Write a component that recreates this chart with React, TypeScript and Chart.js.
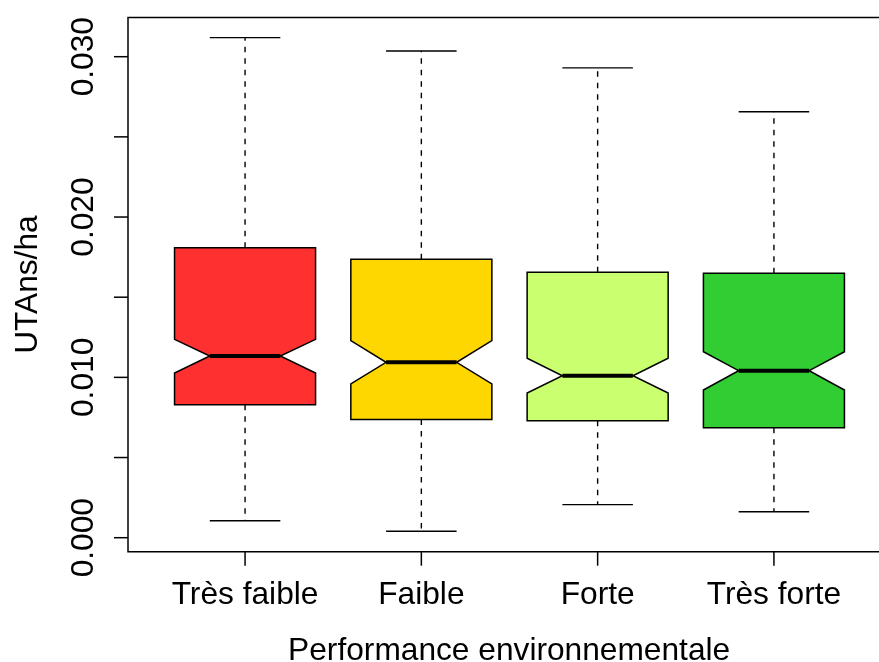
import React, { useEffect, useRef } from "react";
import { Chart, registerables } from "chart.js";

Chart.register(...registerables);

const categories = ["Très faible", "Faible", "Forte", "Très forte"];
const whiskerLow = [0.00106, 0.0004, 0.00206, 0.00162];
const q1Values = [0.0083, 0.00738, 0.0073, 0.00686];
const notchLow = [0.01027, 0.00959, 0.00902, 0.00921];
const medians = [0.01133, 0.01094, 0.0101, 0.01042];
const notchHigh = [0.01237, 0.01229, 0.01119, 0.0116];
const q3Values = [0.01809, 0.01736, 0.01655, 0.01649];
const whiskerHigh = [0.03119, 0.03036, 0.0293, 0.02657];
const boxColors = ["#FF3030", "#FFD700", "#CAFF70", "#32CD32"];

const yTickValues = [0, 0.005, 0.01, 0.015, 0.02, 0.025, 0.03];
const yTickLabels = ["0.000", "", "0.010", "", "0.020", "", "0.030"];

const yTitle = "UTAns/ha";
const xTitle = "Performance environnementale";

const FONT = '31.7px "Liberation Sans", Arial, sans-serif';

const boxPlugin = {
  id: "notchedBoxes",
  afterDraw(chart: any) {
    const ctx: CanvasRenderingContext2D = chart.ctx;
    const xs = chart.scales.x;
    const ys = chart.scales.y;
    const area = chart.chartArea;
    const hwUnits = 0.4;

    ctx.save();
    categories.forEach((_, i) => {
      const cx = xs.getPixelForValue(i + 1);
      const hw = xs.getPixelForValue(i + 1 + hwUnits) - cx;
      const yMin = ys.getPixelForValue(whiskerLow[i]);
      const yQ1 = ys.getPixelForValue(q1Values[i]);
      const yNL = ys.getPixelForValue(notchLow[i]);
      const yMed = ys.getPixelForValue(medians[i]);
      const yNH = ys.getPixelForValue(notchHigh[i]);
      const yQ3 = ys.getPixelForValue(q3Values[i]);
      const yMax = ys.getPixelForValue(whiskerHigh[i]);

      ctx.strokeStyle = "#000";
      ctx.lineWidth = 1.4;
      ctx.setLineDash([5.5, 6]);
      ctx.beginPath();
      ctx.moveTo(cx, yQ3);
      ctx.lineTo(cx, yMax);
      ctx.moveTo(cx, yQ1);
      ctx.lineTo(cx, yMin);
      ctx.stroke();
      ctx.setLineDash([]);

      ctx.beginPath();
      ctx.moveTo(cx - hw / 2, yMax);
      ctx.lineTo(cx + hw / 2, yMax);
      ctx.moveTo(cx - hw / 2, yMin);
      ctx.lineTo(cx + hw / 2, yMin);
      ctx.stroke();

      ctx.beginPath();
      ctx.moveTo(cx - hw, yQ1);
      ctx.lineTo(cx - hw, yNL);
      ctx.lineTo(cx - hw / 2, yMed);
      ctx.lineTo(cx - hw, yNH);
      ctx.lineTo(cx - hw, yQ3);
      ctx.lineTo(cx + hw, yQ3);
      ctx.lineTo(cx + hw, yNH);
      ctx.lineTo(cx + hw / 2, yMed);
      ctx.lineTo(cx + hw, yNL);
      ctx.lineTo(cx + hw, yQ1);
      ctx.closePath();
      ctx.fillStyle = boxColors[i];
      ctx.fill();
      ctx.lineWidth = 1.5;
      ctx.strokeStyle = "#000";
      ctx.stroke();

      ctx.lineWidth = 4;
      ctx.beginPath();
      ctx.moveTo(cx - hw / 2, yMed);
      ctx.lineTo(cx + hw / 2, yMed);
      ctx.stroke();
    });

    ctx.lineWidth = 1.5;
    ctx.strokeStyle = "#000";
    ctx.beginPath();
    ctx.moveTo(area.right + 10, area.top);
    ctx.lineTo(area.left, area.top);
    ctx.lineTo(area.left, area.bottom);
    ctx.lineTo(area.right + 10, area.bottom);
    ctx.stroke();

    ctx.fillStyle = "#000";
    ctx.font = FONT;
    yTickValues.forEach((v, i) => {
      const y = ys.getPixelForValue(v);
      ctx.beginPath();
      ctx.moveTo(area.left, y);
      ctx.lineTo(area.left - 14, y);
      ctx.stroke();
      if (yTickLabels[i]) {
        ctx.save();
        ctx.translate(area.left - 35, y);
        ctx.rotate(-Math.PI / 2);
        ctx.textAlign = "center";
        ctx.textBaseline = "alphabetic";
        ctx.fillText(yTickLabels[i], 0, 0);
        ctx.restore();
      }
    });

    categories.forEach((c, i) => {
      const x = xs.getPixelForValue(i + 1);
      ctx.beginPath();
      ctx.moveTo(x, area.bottom);
      ctx.lineTo(x, area.bottom + 14);
      ctx.stroke();
      ctx.textAlign = "center";
      ctx.textBaseline = "alphabetic";
      ctx.fillText(c, x, area.bottom + 52);
    });

    ctx.textAlign = "center";
    ctx.fillText(xTitle, (area.left + xs.getPixelForValue(4.66)) / 2, area.bottom + 108);
    ctx.save();
    ctx.translate(37, (area.top + area.bottom) / 2);
    ctx.rotate(-Math.PI / 2);
    ctx.fillText(yTitle, 0, 0);
    ctx.restore();

    ctx.restore();
  },
};

export default function App() {
  const ref = useRef<HTMLCanvasElement | null>(null);
  useEffect(() => {
    if (!ref.current) return;
    const chart = new Chart(ref.current, {
      type: "scatter",
      data: { datasets: [{ data: [], showLine: false }] },
      options: {
        animation: false,
        responsive: false,
        devicePixelRatio: 1,
        layout: { padding: { left: 128, top: 17.5, right: 0, bottom: 110.3 } },
        plugins: { legend: { display: false }, tooltip: { enabled: false } },
        scales: {
          x: { type: "linear", min: 0.336, max: 4.596, display: false },
          y: { type: "linear", min: -0.000873, max: 0.032445, display: false },
        },
      },
      plugins: [boxPlugin],
    });
    return () => chart.destroy();
  }, []);
  return (
    <div style={{ position: "fixed", left: 0, top: 0, width: 879, height: 662, background: "#fff" }}>
      <canvas ref={ref} width={879} height={662} />
    </div>
  );
}
